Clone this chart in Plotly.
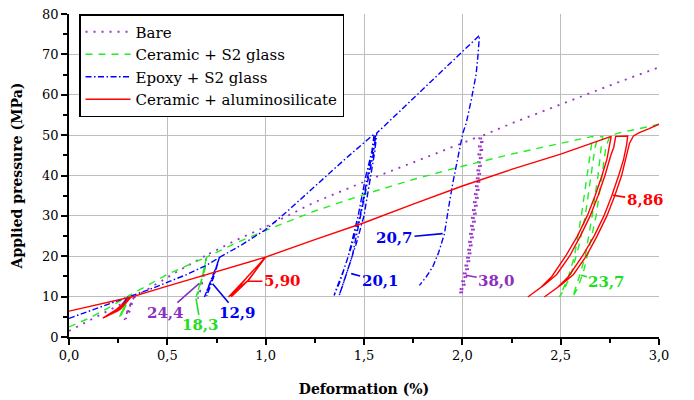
import plotly.graph_objects as go

# ---------------- data ----------------
# Bare
bare_x = [0.0, 0.1, 0.2, 0.33,
          0.30, 0.282, 0.295, 0.33, 0.305, 0.29, 0.31, 0.33,
          0.45, 0.55, 0.70,
          0.685, 0.665, 0.655, 0.67, 0.69, 0.70,
          0.85, 1.0, 1.25, 1.579, 1.8, 2.087,
          2.075, 2.05, 2.025, 2.0, 1.985, 2.0, 2.02, 2.045, 2.07, 2.09, 2.097,
          2.085, 2.06, 2.035, 2.01, 1.995, 2.01, 2.03, 2.055, 2.08, 2.10, 2.104,
          2.25, 2.5, 2.75, 3.0]
bare_y = [1.5, 4.0, 6.7, 9.8,
          7.0, 4.2, 6.0, 9.8, 7.2, 4.5, 6.5, 9.8,
          13.3, 16.2, 20.3,
          15.0, 11.0, 9.5, 12.0, 17.0, 20.3,
          24.0, 27.3, 33.4, 40.0, 44.2, 49.7,
          40.0, 30.0, 20.0, 14.0, 10.5, 12.5, 17.0, 25.0, 35.0, 45.0, 49.7,
          40.0, 30.0, 20.0, 14.0, 10.5, 12.5, 17.0, 25.0, 35.0, 45.0, 49.9,
          52.9, 57.7, 62.3, 66.8]

# Ceramic + S2 glass
cs2_x = [0.0, 0.1, 0.2, 0.307,
         0.28, 0.257, 0.275, 0.307, 0.283, 0.265, 0.285, 0.307,
         0.4, 0.5, 0.6, 0.70,
         0.68, 0.655, 0.646, 0.66, 0.685, 0.70, 0.675, 0.655, 0.665, 0.69, 0.70,
         0.85, 1.0, 1.25, 1.5, 1.75, 2.0, 2.25, 2.5, 2.663,
         2.655, 2.635, 2.605, 2.57, 2.54, 2.494,
         2.52, 2.555, 2.59, 2.625, 2.655, 2.675, 2.69, 2.714,
         2.706, 2.69, 2.66, 2.625, 2.595, 2.561,
         2.585, 2.615, 2.645, 2.68, 2.71, 2.73, 2.75, 2.8, 2.9, 3.0]
cs2_y = [2.5, 4.6, 7.2, 10.3,
         7.5, 5.0, 7.0, 10.3, 7.8, 5.2, 7.3, 10.3,
         12.9, 15.5, 17.7, 19.8,
         15.5, 11.5, 9.9, 12.0, 16.0, 19.8, 15.0, 10.5, 12.5, 16.5, 19.8,
         23.3, 26.4, 31.2, 35.3, 39.0, 42.3, 45.3, 48.0, 49.7,
         47.0, 40.0, 30.0, 20.0, 15.0, 9.9,
         12.0, 16.0, 22.0, 30.0, 40.0, 47.0, 49.5, 49.7,
         47.0, 40.0, 30.0, 20.0, 15.0, 9.9,
         12.0, 16.0, 22.0, 30.0, 40.0, 47.0, 49.8, 50.6, 51.6, 52.7]

# Epoxy + S2 glass
es2_x = [0.0, 0.1, 0.2, 0.30,
         0.27, 0.245, 0.265, 0.30,
         0.4, 0.5, 0.6, 0.7, 0.765,
         0.74, 0.71, 0.689, 0.70, 0.725, 0.75, 0.765, 0.745, 0.715, 0.70, 0.715, 0.74, 0.765,
         0.88, 1.0, 1.1, 1.25, 1.4, 1.552,
         1.54, 1.51, 1.47, 1.42, 1.38, 1.348,
         1.36, 1.40, 1.44, 1.48, 1.52, 1.545, 1.56,
         1.55, 1.525, 1.485, 1.44, 1.40, 1.374,
         1.385, 1.42, 1.46, 1.50, 1.535, 1.555, 1.565,
         1.8, 2.0, 2.087,
         2.08, 2.07, 2.045, 2.02, 2.002, 1.975, 1.951, 1.93, 1.909, 1.88, 1.85, 1.815, 1.782]
es2_y = [4.6, 6.4, 8.2, 9.9,
         8.0, 6.6, 7.8, 9.9,
         11.6, 13.5, 15.5, 17.8, 19.7,
         16.0, 12.5, 9.9, 11.5, 14.5, 17.5, 19.7, 16.5, 12.5, 10.2, 12.0, 15.5, 19.7,
         22.9, 26.6, 30.7, 37.3, 43.9, 50.3,
         46.0, 40.0, 30.0, 20.0, 14.0, 10.3,
         12.0, 17.0, 23.0, 30.0, 40.0, 47.0, 50.2,
         46.0, 40.0, 30.0, 20.0, 14.0, 10.3,
         12.0, 17.0, 23.0, 30.0, 40.0, 46.0, 50.5,
         61.4, 70.7, 74.7,
         70.0, 65.0, 58.6, 53.0, 50.4, 44.0, 38.0, 32.0, 25.6, 21.0, 17.4, 14.8, 12.8]

# Ceramic + aluminosilicate
cal_x = [0.0, 0.1, 0.2, 0.316,
         0.24, 0.172, 0.25, 0.316, 0.25, 0.185, 0.26, 0.316,
         0.5, 0.75, 1.0,
         0.90, 0.811, 0.91, 1.0, 0.905, 0.825, 0.915, 1.0,
         1.25, 1.5, 1.75, 2.0, 2.25, 2.5, 2.757,
         2.75, 2.735, 2.71, 2.675, 2.635, 2.585, 2.525, 2.455, 2.40, 2.333,
         2.36, 2.42, 2.48, 2.545, 2.60, 2.65, 2.69, 2.725, 2.755, 2.77, 2.78, 2.841,
         2.835, 2.82, 2.795, 2.76, 2.72, 2.67, 2.61, 2.54, 2.485, 2.417,
         2.445, 2.505, 2.565, 2.63, 2.685, 2.735, 2.775, 2.81, 2.835, 2.85, 2.87, 2.90, 2.95, 3.0]
cal_y = [6.4, 7.5, 8.7, 9.9,
         6.8, 4.7, 6.5, 9.9, 7.0, 5.0, 6.8, 9.9,
         12.6, 16.2, 19.8,
         14.5, 9.9, 14.0, 19.8, 14.8, 10.0, 14.2, 19.8,
         24.1, 28.3, 32.9, 37.4, 41.5, 45.3, 49.7,
         47.5, 44.0, 40.0, 35.0, 30.0, 25.0, 20.0, 15.0, 12.3, 9.9,
         10.8, 13.0, 15.5, 20.0, 25.0, 30.0, 35.0, 40.0, 45.0, 47.0, 49.7, 49.8,
         47.5, 44.0, 40.0, 35.0, 30.0, 25.0, 20.0, 15.0, 12.3, 9.9,
         10.8, 13.0, 15.5, 20.0, 25.0, 30.0, 35.0, 40.0, 45.0, 48.0, 49.8, 50.6, 51.6, 52.7]

series_names = ["Bare", "Ceramic + S2 glass", "Epoxy + S2 glass", "Ceramic + aluminosilicate"]

# loop labels: text, label point, tip of the leader
label_text = ["24,4", "18,3", "12,9", "5,90", "20,1", "20,7", "38,0", "23,7", "8,86"]
label_x = [0.491, 0.669, 0.857, 1.085, 1.582, 1.655, 2.175, 2.735, 2.93]
label_y = [5.9, 2.9, 5.9, 13.8, 13.8, 24.5, 13.8, 13.6, 33.9]
tip_x = [0.662, 0.646, 0.730, 0.907, 1.435, 1.900, 2.019, 2.604, 2.765]
tip_y = [13.3, 9.5, 13.2, 13.8, 15.7, 25.6, 15.3, 15.3, 35.1]
label_series = [0, 1, 2, 3, 2, 2, 0, 1, 3]

x_ticks = [0.0, 0.5, 1.0, 1.5, 2.0, 2.5, 3.0]
y_ticks = [0, 10, 20, 30, 40, 50, 60, 70, 80]

# ---------------- style ----------------
SERIF = "DejaVu Serif"
colors = ["#9933cc", "#22ee22", "#0000ff", "#ff0000"]
label_colors = ["#8a2fc0", "#22dd22", "#0000ee", "#ff0000"]
dashes = ["2px,6px", "7px,6px", "6px,2.5px,1.5px,2.5px", "solid"]
widths = [1.8, 1.4, 1.4, 1.4]

fig = go.Figure()
for name, xs, ys, c, d, w in zip(series_names,
                                [bare_x, cs2_x, es2_x, cal_x],
                                [bare_y, cs2_y, es2_y, cal_y],
                                colors, dashes, widths):
    fig.add_trace(go.Scatter(x=xs, y=ys, mode="lines", name=name,
                             line=dict(color=c, dash=d, width=w)))

for t, lx, ly, tx, ty, s in zip(label_text, label_x, label_y, tip_x, tip_y, label_series):
    fig.add_annotation(x=tx, y=ty, xref="x", yref="y",
                       ax=lx, ay=ly, axref="x", ayref="y",
                       text="<b>" + t + "</b>", showarrow=True, arrowhead=0, arrowwidth=1.6,
                       arrowcolor=label_colors[s], standoff=0, startstandoff=0,
                       font=dict(family=SERIF, size=15, color=label_colors[s]))

axis_common = dict(showline=True, linecolor="black", linewidth=1.5,
                   ticks="outside", ticklen=6, tickwidth=1.5, tickcolor="black",
                   showgrid=True, gridcolor="#bdbdbd", gridwidth=1, zeroline=False,
                   automargin=False,
                   tickfont=dict(family=SERIF, size=13, color="black"))

fig.update_xaxes(range=[0, 3], tickvals=x_ticks, tickformat=".1f",
                 minor=dict(dtick=0.25, ticks="outside", ticklen=4, tickcolor="black", showgrid=False),
                 title=dict(text="<b>Deformation (%)</b>", standoff=22,
                            font=dict(family=SERIF, size=14, color="black")),
                 **axis_common)
fig.update_yaxes(range=[0, 80], tickvals=y_ticks,
                 minor=dict(dtick=5, ticks="outside", ticklen=4, tickcolor="black", showgrid=False),
                 title=dict(text="<b>Applied pressure (MPa)</b>", standoff=16,
                            font=dict(family=SERIF, size=14, color="black")),
                 **axis_common)

fig.update_layout(
    width=694, height=400,
    margin=dict(l=69, r=35, t=14, b=63),
    paper_bgcolor="white", plot_bgcolor="white",
    separators=", ",
    showlegend=True,
    legend=dict(x=0.017, y=1.0, xanchor="left", yanchor="top",
                bgcolor="white", bordercolor="black", borderwidth=1.5,
                font=dict(family=SERIF, size=15, color="black"),
                itemwidth=45, tracegroupgap=0),
)

fig.write_html("out.html")
